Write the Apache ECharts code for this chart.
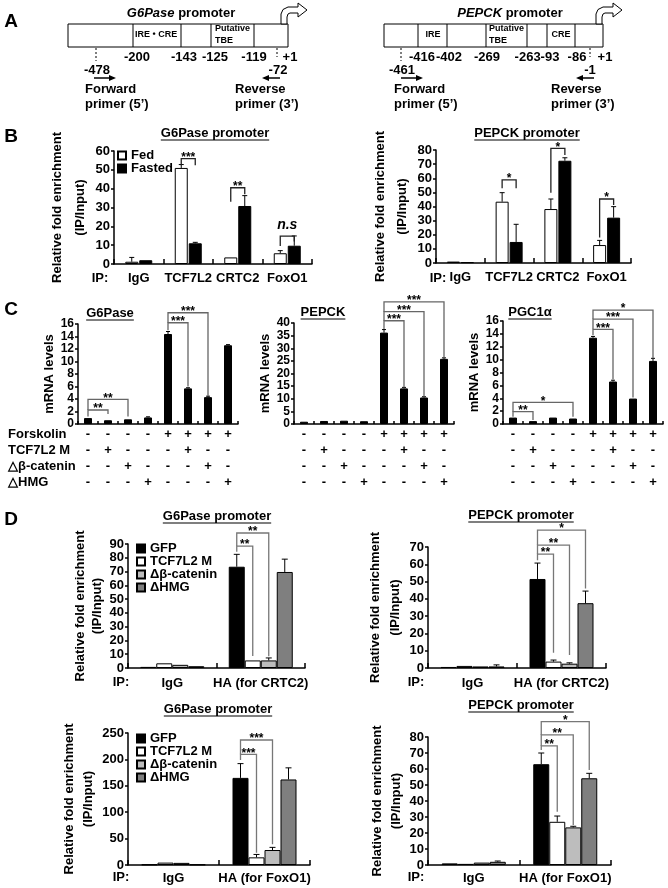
<!DOCTYPE html>
<html><head><meta charset="utf-8">
<script src="https://cdn.jsdelivr.net/npm/echarts@6/dist/echarts.min.js"></script>
<style>html,body{margin:0;padding:0;background:#fff}#c{width:668px;height:888px}</style>
</head><body><div id="c"></div>
<script>
// ---------------- DATA ----------------
// Panel B : ChIP, fed vs fasted
const bCats = ['IgG', 'TCF7L2', 'CRTC2', 'FoxO1'];
const bG6Fed = [1.2, 51.0, 3.5, 5.7];
const bG6FedSd = [2.3, 1.8, 0, 1.4];
const bG6Fasted = [2.0, 11.0, 30.8, 9.7];
const bG6FastedSd = [0.2, 0.5, 5.5, 5.2];
const bPkFed = [1.0, 43.4, 38.2, 12.7];
const bPkFedSd = [0.3, 6.4, 7.1, 3.3];
const bPkFasted = [0.6, 14.9, 72.4, 32.1];
const bPkFastedSd = [0.2, 12.5, 2.1, 7.8];
// significance: [cat1, series1, cat2, series2, level, leftBottom, rightBottom, label]
const bG6Sig = [[1,0,1,1,56,52.5,52.5,'***'],[2,0,2,1,40.5,33,37,'**'],[3,0,3,1,14.8,9.5,12,'n.s']];
const bPkSig = [[1,0,1,1,58.8,52.9,52.9,'*'],[2,0,2,1,81.2,49.8,76.5,'*'],[3,0,3,1,45.3,18,41,'*']];

// Panel C : mRNA levels
const cCats = ['1','2','3','4','5','6','7','8'];
const rowForskolin = ['-','-','-','-','+','+','+','+'];
const rowTcf = ['-','+','-','-','-','+','-','-'];
const rowDbc = ['-','-','+','-','-','-','+','-'];
const rowDhmg = ['-','-','-','+','-','-','-','+'];
const cG6 = [0.95, 0.6, 0.75, 1.05, 14.4, 5.7, 4.3, 12.6];
const cG6Sd = [0.05, 0.05, 0.05, 0.1, 0.4, 0.1, 0.15, 0.1];
const cPk = [0.9, 1.2, 1.3, 1.1, 36.2, 14.1, 10.5, 25.8];
const cPkSd = [0.1, 0.1, 0.1, 0.1, 1.2, 0.4, 0.3, 0.4];
const cPgc = [1.0, 0.45, 1.0, 0.85, 13.4, 6.6, 3.95, 9.8];
const cPgcSd = [0.05, 0.05, 0.05, 0.05, 0.2, 0.2, 0.05, 0.4];
const cG6Sig = [[0,0,1,0,2.24,1.2,1.6,'**'],[0,0,2,0,3.95,2.24,1.2,'**'],[4,0,5,0,16.2,15.0,6.0,'***'],[4,0,6,0,17.8,16.2,4.5,'***']];
const cPkSig = [[4,0,5,0,40.9,37.6,14.5,'***'],[4,0,6,0,44.5,40.9,10.8,'***'],[4,0,7,0,48.4,44.5,26.4,'***']];
const cPgcSig = [[0,0,1,0,1.91,1.14,0.62,'**'],[0,0,3,0,3.37,1.91,1.14,'*'],[4,0,5,0,14.7,13.8,6.9,'***'],[4,0,6,0,16.3,14.7,4.1,'***'],[4,0,7,0,17.7,16.3,10.2,'*']];

// Panel D : ChIP with mutants
const dNames = ['GFP', 'TCF7L2 M', 'Δβ-catenin', 'ΔHMG'];
const dCatsCrtc = ['IgG', 'HA (for CRTC2)'];
const dCatsFox = ['IgG', 'HA (for FoxO1)'];
const d1Gfp = [0.8, 73.5], d1GfpSd = [0.2, 9.0];
const d1Tcf = [3.4, 5.5], d1TcfSd = [0.3, 0.4];
const d1Dbc = [2.3, 5.5], d1DbcSd = [0.3, 1.8];
const d1Hmg = [1.3, 69.7], d1HmgSd = [0.3, 9.3];
const d1Sig = [[1,0,1,1,88.5,84.4,8.7,'**'],[1,0,1,2,98,88.5,8.5,'**']];
const d2Gfp = [0.6, 51.5], d2GfpSd = [0.2, 9.2];
const d2Tcf = [1.2, 3.7], d2TcfSd = [0.2, 0.9];
const d2Dbc = [0.9, 2.5], d2DbcSd = [0.2, 0.5];
const d2Hmg = [0.9, 37.5], d2HmgSd = [0.9, 7.0];
const d2Sig = [[1,0,1,1,65.9,62.4,8.8,'**'],[1,0,1,2,71.1,65.9,7.5,'**'],[1,0,1,3,79.8,71.1,46,'*']];
const d3Gfp = [1.0, 165], d3GfpSd = [0.3, 27];
const d3Tcf = [4.5, 14.5], d3TcfSd = [0.5, 5.5];
const d3Dbc = [4.0, 28.4], d3DbcSd = [0.5, 5.0];
const d3Hmg = [1.0, 162], d3HmgSd = [0.3, 22];
const d3Sig = [[1,0,1,1,209.6,198.9,23.4,'***'],[1,0,1,2,236.7,209.6,39.1,'***']];
const d4Gfp = [1.0, 63.0], d4GfpSd = [0.3, 7.0];
const d4Tcf = [0.7, 27.0], d4TcfSd = [0.2, 3.6];
const d4Dbc = [1.5, 23.5], d4DbcSd = [0.3, 0.7];
const d4Hmg = [2.0, 54.2], d4HmgSd = [0.5, 3.1];
const d4Sig = [[1,0,1,1,74.4,71.9,33.3,'**'],[1,0,1,2,81.3,74.4,25,'**'],[1,0,1,3,89.6,81.3,59.4,'*']];

// ---------------- BUILD ----------------
const F = "'Liberation Sans', Arial, Helvetica, sans-serif";
const F13 = 'bold 13px ' + F;
const dColors = ['#000000', '#ffffff', '#bdbdbd', '#7f7f7f'];
const grids = [], xAxes = [], yAxes = [], series = [], ga = [];
const mctx = document.createElement('canvas').getContext('2d');
function tw(t, f) { mctx.font = f; return mctx.measureText(t).width; }

function txt(text, x, y, font, align, vAlign) {
  align = align || 'center'; vAlign = vAlign || 'middle';
  ga.push({type:'text', x:x, y:y, silent:true, z:100,
    style:{text:text, font:font || F13, fill:'#000', align:align, verticalAlign:vAlign, textAlign:align, textVerticalAlign:vAlign}});
}
function ln(x1, y1, x2, y2, w, dash, color) {
  const st = {stroke: color || '#000', lineWidth: w || 1};
  if (dash) st.lineDash = dash;
  ga.push({type:'line', silent:true, z:100, shape:{x1:x1, y1:y1, x2:x2, y2:y2}, style:st});
}
function poly(points, fill, stroke, w) {
  const st = {fill: fill};
  if (stroke) { st.stroke = stroke; st.lineWidth = w || 1; }
  ga.push({type:'polygon', silent:true, z:100, shape:{points:points}, style:st});
}
function box(x, y, w, h) {
  ga.push({type:'rect', silent:true, z:99, shape:{x:x, y:y, width:w, height:h}, style:{fill:'#fff', stroke:'#000', lineWidth:1}});
}
function titleU(text, cx, cy) {
  txt(text, cx, cy, F13);
  const w = tw(text, F13);
  ln(cx - w/2, cy + 7, cx + w/2, cy + 7, 1.2);
}

function errSeries(gi, vals, sds, off, cap) {
  return {type:'custom', xAxisIndex:gi, yAxisIndex:gi, silent:true, clip:false, z:3,
    data: vals.map((v, i) => [i, v, v + sds[i]]),
    encode:{x:0, y:[1, 2]},
    renderItem: function (params, api) {
      const p0 = api.coord([api.value(0), api.value(1)]);
      const p1 = api.coord([api.value(0), api.value(2)]);
      if (p0[1] - p1[1] < 0.6) return null;
      const x = p0[0] + off;
      return {type:'group', children:[
        {type:'line', shape:{x1:x, y1:p0[1], x2:x, y2:p1[1]}, style:{stroke:'#000', lineWidth:1}},
        {type:'line', shape:{x1:x - cap, y1:p1[1], x2:x + cap, y2:p1[1]}, style:{stroke:'#000', lineWidth:1}}
      ]};
    }};
}
function sigSeries(gi, list, offs, color) {
  return {type:'custom', xAxisIndex:gi, yAxisIndex:gi, silent:true, clip:false, z:4,
    data: list.map(b => [b[0], b[4]]),
    encode:{x:0, y:1},
    renderItem: function (params, api) {
      const b = list[params.dataIndex];
      const xa = api.coord([b[0], b[4]])[0] + offs[b[1]];
      const xb = api.coord([b[2], b[4]])[0] + offs[b[3]];
      const yl = api.coord([b[0], b[4]])[1];
      const ya = api.coord([b[0], b[5]])[1];
      const yb = api.coord([b[0], b[6]])[1];
      const ns = b[7] === 'n.s';
      return {type:'group', children:[
        {type:'polyline', shape:{points:[[xa, ya], [xa, yl], [xb, yl], [xb, yb]]}, style:{stroke:color, lineWidth:1.3, fill:null}},
        {type:'text', style:{text:b[7], x:(xa + xb)/2, y: ns ? yl - 4 : yl - 1,
          align:'center', verticalAlign: ns ? 'bottom' : 'middle',
          font: ns ? 'italic bold 14px ' + F : 'bold 12px ' + F, fill:'#000'}}
      ]};
    }};
}

function addChart(o) {
  const gi = grids.length;
  grids.push({left:o.box[0], top:o.box[1], width:o.box[2], height:o.box[3], containLabel:false, outerBoundsMode:'none'});
  xAxes.push({gridIndex:gi, type:'category', data:o.cats, boundaryGap:true,
    axisLine:{show:true, onZero:false, lineStyle:{color:'#000', width:1.5}},
    axisTick:{show:true, inside:true, length:o.xTick, interval:0, lineStyle:{color:'#000', width:1.5}},
    axisLabel:{show:true, interval:0, margin:o.xMargin, color:'#000', fontFamily:F, fontWeight:'bold', fontSize:13,
      lineHeight:o.xLH || 14, formatter:o.xFmt},
    splitLine:{show:false}});
  yAxes.push({gridIndex:gi, type:'value', min:0, max:o.y[0], interval:o.y[1],
    name:o.yName, nameLocation:'middle', nameGap:o.nameGap, nameRotate:90,
    nameTextStyle:{color:'#000', fontFamily:F, fontWeight:'bold', fontSize:13, lineHeight:o.nameLH},
    axisLine:{show:true, lineStyle:{color:'#000', width:1.5}},
    axisTick:{show:true, inside:false, length:3, lineStyle:{color:'#000', width:1.5}},
    axisLabel:{show:true, margin:4, color:'#000', fontFamily:F, fontWeight:'bold', fontSize:o.yFont || 13,
      showMinLabel:true, showMaxLabel:true},
    splitLine:{show:false}});
  const n = o.bars.length, w = o.barW, g = o.gap;
  const offs = o.bars.map((b, k) => (k - (n - 1) / 2) * (w + g));
  o.bars.forEach((b, k) => {
    series.push({type:'bar', name:b.name, xAxisIndex:gi, yAxisIndex:gi, data:b.vals, barWidth:w,
      barGap:(g / w * 100) + '%', z:2, silent:true,
      itemStyle:{color:b.color, borderColor:'#000', borderWidth:1}});
    series.push(errSeries(gi, b.vals, b.sd, offs[k], o.cap));
  });
  if (o.sig) series.push(sigSeries(gi, o.sig, offs, o.sigColor));
}

const chipName = 'Relative fold enrichment\n(IP/Input)';
// B
addChart({box:[114,151,198,113], cats:bCats, y:[60,10], yName:chipName, nameGap:17, nameLH:23,
  xTick:5, xMargin:7, barW:13, gap:1, cap:2.5, sigColor:'#222', sig:bG6Sig,
  bars:[{name:'Fed', vals:bG6Fed, sd:bG6FedSd, color:'#fff'}, {name:'Fasted', vals:bG6Fasted, sd:bG6FastedSd, color:'#000'}]});
addChart({box:[436,150,195,113], cats:bCats, y:[80,10], yName:chipName, nameGap:10, nameLH:22,
  xTick:5, xMargin:7, barW:13, gap:1, cap:2.5, sigColor:'#222', sig:bPkSig,
  bars:[{name:'Fed', vals:bPkFed, sd:bPkFedSd, color:'#fff'}, {name:'Fasted', vals:bPkFasted, sd:bPkFastedSd, color:'#000'}]});
// C
const cFmt = (v, i) => [rowForskolin[i], rowTcf[i], rowDbc[i], rowDhmg[i]].join('\n');
addChart({box:[78,324,160,100], cats:cCats, y:[16,2], yName:'mRNA levels', nameGap:15, nameLH:15, yFont:12,
  xTick:3, xMargin:2, xLH:16, xFmt:cFmt, barW:8, gap:0, cap:2, sigColor:'#666', sig:cG6Sig,
  bars:[{name:'G6Pase', vals:cG6, sd:cG6Sd, color:'#000'}]});
addChart({box:[294,323,160,101], cats:cCats, y:[40,5], yName:'mRNA levels', nameGap:21, nameLH:15, yFont:12,
  xTick:3, xMargin:2, xLH:16, xFmt:cFmt, barW:8, gap:0, cap:2, sigColor:'#666', sig:cPkSig,
  bars:[{name:'PEPCK', vals:cPk, sd:cPkSd, color:'#000'}]});
addChart({box:[503,321,160,103], cats:cCats, y:[16,2], yName:'mRNA levels', nameGap:13, nameLH:15, yFont:12,
  xTick:3, xMargin:2, xLH:16, xFmt:cFmt, barW:8, gap:0, cap:2, sigColor:'#666', sig:cPgcSig,
  bars:[{name:'PGC1α', vals:cPgc, sd:cPgcSd, color:'#000'}]});
// D
function dBars(a, as, b, bs, c, cs, d, ds) {
  return [{name:dNames[0], vals:a, sd:as, color:dColors[0]}, {name:dNames[1], vals:b, sd:bs, color:dColors[1]},
          {name:dNames[2], vals:c, sd:cs, color:dColors[2]}, {name:dNames[3], vals:d, sd:ds, color:dColors[3]}];
}
addChart({box:[128,544,177,124], cats:dCatsCrtc, y:[90,10], yName:chipName, nameGap:21, nameLH:17,
  xTick:5, xMargin:8, barW:16, gap:0, cap:3, sigColor:'#777', sig:d1Sig,
  bars:dBars(d1Gfp, d1GfpSd, d1Tcf, d1TcfSd, d1Dbc, d1DbcSd, d1Hmg, d1HmgSd)});
addChart({box:[428,547,178,121], cats:dCatsCrtc, y:[70,10], yName:chipName, nameGap:20, nameLH:20,
  xTick:5, xMargin:8, barW:16, gap:0, cap:3, sigColor:'#777', sig:d2Sig,
  bars:dBars(d2Gfp, d2GfpSd, d2Tcf, d2TcfSd, d2Dbc, d2DbcSd, d2Hmg, d2HmgSd)});
addChart({box:[128,733,182,132], cats:dCatsFox, y:[250,50], yName:chipName, nameGap:16, nameLH:19,
  xTick:5, xMargin:6, barW:16, gap:0, cap:3, sigColor:'#777', sig:d3Sig,
  bars:dBars(d3Gfp, d3GfpSd, d3Tcf, d3TcfSd, d3Dbc, d3DbcSd, d3Hmg, d3HmgSd)});
addChart({box:[428,737,183,128], cats:dCatsFox, y:[80,10], yName:chipName, nameGap:14, nameLH:19,
  xTick:5, xMargin:6, barW:16, gap:0, cap:3, sigColor:'#777', sig:d4Sig,
  bars:dBars(d4Gfp, d4GfpSd, d4Tcf, d4TcfSd, d4Dbc, d4DbcSd, d4Hmg, d4HmgSd)});

// ---------------- GRAPHIC TEXT / DIAGRAM ----------------
const FL = 'bold 19px ' + F;
txt('A', 11, 22, FL); txt('B', 11, 137, FL); txt('C', 11, 310, FL); txt('D', 11, 520, FL);

function italTitle(it, rest, cx, cy) {
  const fi = 'italic bold 13px ' + F;
  const w1 = tw(it, fi), w2 = tw(rest, F13);
  const x0 = cx - (w1 + w2) / 2;
  txt(it, x0, cy, fi, 'left');
  txt(rest, x0 + w1, cy, F13, 'left');
}
function bentArrow(x) {
  const p = [[0,24],[0,14],[2,9.5],[7,7],[17,7],[17,3],[26,10],[17,17],[17,13],[9,13],[7,14],[6,17],[6,24]];
  poly(p.map(q => [x + q[0], q[1]]), '#fff', '#000', 1);
}
function arrowR(x1, x2, y) { ln(x1, y, x2 - 5, y, 1.5); poly([[x2, y], [x2 - 7, y - 3], [x2 - 7, y + 3]], '#000'); }
function arrowL(x1, x2, y) { ln(x1, y, x2 + 5, y, 1.5); poly([[x2, y], [x2 + 7, y - 3], [x2 + 7, y + 3]], '#000'); }
const F9 = 'bold 9px ' + F;
function promoter(p) {
  italTitle(p.it, ' promoter', p.tc, 13);
  bentArrow(p.bend);
  box(p.box[0], 24, p.box[1] - p.box[0], 23);
  p.div.forEach(x => ln(x, 24, x, 47, 1));
  p.inner.forEach(t => txt(t[0], t[1], t[2], F9, t[3]));
  p.n1.forEach(t => txt(t[0], t[1], 57, F13));
  p.n2.forEach(t => txt(t[0], t[1], 70, F13));
  ln(p.dash[0], 48, p.dash[0], 61, 1, [2, 2]);
  ln(p.dash[1], 48, p.dash[1], 57, 1, [2, 2]);
  arrowR(p.fwd[0], p.fwd[1], 78);
  arrowL(p.rev[0], p.rev[1], 78);
  txt('Forward', p.fl, 89, F13, 'left'); txt('primer (5’)', p.fl, 104, F13, 'left');
  txt('Reverse', p.rl, 89, F13, 'left'); txt('primer (3’)', p.rl, 104, F13, 'left');
}
promoter({it:'G6Pase', tc:181, bend:281, box:[68, 288], div:[133, 181, 211, 254],
  inner:[['IRE • CRE', 135, 35, 'left'], ['Putative', 215, 29, 'left'], ['TBE', 215, 41, 'left']],
  n1:[['-200', 137], ['-143', 184], ['-125', 215], ['-119', 254], ['+1', 290]],
  n2:[['-478', 97], ['-72', 278]], dash:[96, 277], fwd:[94, 116], rev:[280, 262], fl:85, rl:235});
promoter({it:'PEPCK', tc:510, bend:596, box:[384, 603], div:[418, 447, 486, 527, 547, 575],
  inner:[['IRE', 433, 35, 'center'], ['Putative', 489, 29, 'left'], ['TBE', 489, 41, 'left'], ['CRE', 561, 35, 'center']],
  n1:[['-416', 422], ['-402', 449], ['-269', 487], ['-263-93', 537], ['-86', 577], ['+1', 605]],
  n2:[['-461', 402], ['-1', 590]], dash:[401, 590], fwd:[401, 423], rev:[594, 576], fl:394, rl:551});

// titles
titleU('G6Pase promoter', 215, 133);
titleU('PEPCK promoter', 527, 133);
titleU('G6Pase', 110, 313);
titleU('PEPCK', 323, 312);
titleU('PGC1α', 530, 312);
titleU('G6Pase promoter', 217, 516);
titleU('PEPCK promoter', 521, 515);
titleU('G6Pase promoter', 218, 709);
titleU('PEPCK promoter', 521, 705);
// IP labels
txt('IP:', 100, 278); txt('IP:', 438, 278);
txt('IP:', 121, 682); txt('IP:', 416, 682);
txt('IP:', 121, 877); txt('IP:', 416, 877);
// C row labels
txt('Forskolin', 8, 434, F13, 'left');
txt('TCF7L2 M', 8, 450, F13, 'left');
txt('△β-catenin', 8, 466, F13, 'left');
txt('△HMG', 8, 482, F13, 'left');

const legTS = (lh) => ({color:'#000', fontFamily:F, fontWeight:'bold', fontSize:13, lineHeight:lh});
const legends = [
  {data:['Fed', 'Fasted'], left:117, top:149, orient:'vertical', icon:'rect', itemWidth:8, itemHeight:8, itemGap:0, padding:0, selectedMode:false, textStyle:legTS(12.5)},
  {data:dNames, left:136, top:542, orient:'vertical', icon:'rect', itemWidth:8, itemHeight:8, itemGap:0, padding:0, selectedMode:false, textStyle:legTS(10.8)},
  {data:dNames, left:136, top:732, orient:'vertical', icon:'rect', itemWidth:8, itemHeight:8, itemGap:0, padding:0, selectedMode:false, textStyle:legTS(10.8)}
];

const chart = echarts.init(document.getElementById('c'), null, {renderer:'canvas'});
chart.setOption({
  animation:false, backgroundColor:'#fff', textStyle:{fontFamily:F},
  grid:grids, xAxis:xAxes, yAxis:yAxes, series:series, legend:legends, graphic:ga
});
</script></body></html>
